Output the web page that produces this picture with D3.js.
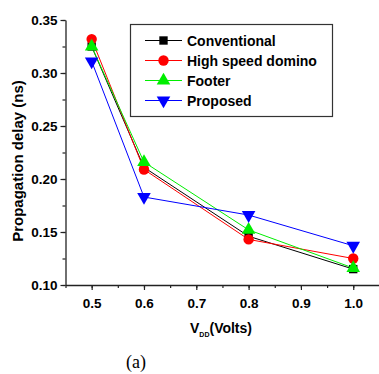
<!DOCTYPE html>
<html>
<head>
<meta charset="utf-8">
<script src="https://cdn.jsdelivr.net/npm/d3@7"></script>
<style>
  body { margin: 0; background: #fff; }
  svg { display: block; }
  text { font-family: Arial, "Liberation Sans", sans-serif; }
  text.caption { font-family: "Liberation Serif", "Times New Roman", "DejaVu Serif", serif; }
</style>
</head>
<body>
<div id="wrapper"></div>
<script>
// supply voltage (V) on the x axis
const vdd = [0.5, 0.6, 0.8, 1.0];

// propagation delay (ns) of each circuit
const conventional = [0.325, 0.211, 0.146, 0.115];
const highSpeedDomino = [0.332, 0.209, 0.143, 0.125];
const footer = [0.325, 0.216, 0.152, 0.116];
const proposed = [0.311, 0.183, 0.166, 0.137];

const seriesNames = ["Conventional", "High speed domino", "Footer", "Proposed"];
const xTicks = [0.5, 0.6, 0.7, 0.8, 0.9, 1.0];
const yTicks = [0.10, 0.15, 0.20, 0.25, 0.30, 0.35];

function buildPlot() {
    const width = 379, height = 374;

    const svg = d3.select("#wrapper").append("svg")
        .attr("width", width)
        .attr("height", height);

    const x = d3.scaleLinear().domain([0.45, 1.05]).range([65.5, 379.4]);
    const y = d3.scaleLinear().domain([0.10, 0.35]).range([285, 20]);

    const series = [
        { name: seriesNames[0], values: conventional, color: "#000000", symbol: d3.symbolSquare, size: 70, rot: 0 },
        { name: seriesNames[1], values: highSpeedDomino, color: "#ff0000", symbol: d3.symbolCircle, size: 85, rot: 0 },
        { name: seriesNames[2], values: footer, color: "#00ee00", symbol: d3.symbolTriangle, size: 80, rot: 0 },
        { name: seriesNames[3], values: proposed, color: "#0000ff", symbol: d3.symbolTriangle, size: 80, rot: 180 }
    ];

    // minor ticks first, then the major ones with labels
    svg.append("g")
        .attr("transform", `translate(0,${y(0.10)})`)
        .call(d3.axisBottom(x).tickValues(d3.range(0.45, 1.06, 0.05)).tickSize(3).tickFormat(""))
        .call(g => g.select(".domain").remove());

    svg.append("g")
        .attr("transform", `translate(${x(0.45)},0)`)
        .call(d3.axisLeft(y).tickValues(d3.range(0.10, 0.351, 0.025)).tickSize(3).tickFormat(""))
        .call(g => g.select(".domain").remove());

    const xAxis = svg.append("g")
        .attr("transform", `translate(0,${y(0.10)})`)
        .call(d3.axisBottom(x).tickValues(xTicks).tickSize(5).tickSizeOuter(0).tickPadding(8).tickFormat(d3.format(".1f")));

    const yAxis = svg.append("g")
        .attr("transform", `translate(${x(0.45)},0)`)
        .call(d3.axisLeft(y).tickValues(yTicks).tickSize(5).tickSizeOuter(0).tickPadding(3).tickFormat(d3.format(".2f")));

    [xAxis, yAxis].forEach(g => {
        g.select(".domain").attr("stroke", "#222").attr("stroke-width", 1.3);
        g.selectAll(".tick text")
            .attr("fill", "#000")
            .style("font-size", "13.5px")
            .style("font-weight", "bold");
    });
    svg.selectAll(".tick line").attr("stroke", "#222").attr("stroke-width", 1.2);

    // axis titles
    svg.append("text")
        .attr("transform", `translate(23,161) rotate(-90)`)
        .attr("text-anchor", "middle")
        .style("font-size", "15px")
        .style("font-weight", "bold")
        .text("Propagation delay (ns)");

    const xTitle = svg.append("text")
        .attr("x", 190)
        .attr("y", 333)
        .style("font-size", "14px")
        .style("font-weight", "bold");
    xTitle.append("tspan").text("V");
    xTitle.append("tspan").attr("dy", 4).style("font-size", "7px").text("DD");
    xTitle.append("tspan").attr("dy", -4).text("(Volts)");

    svg.append("text")
        .attr("class", "caption")
        .attr("x", 136)
        .attr("y", 368)
        .attr("text-anchor", "middle")
        .style("font-size", "18px")
        .text("(a)");

    // lines and markers
    const line = d3.line().x(d => x(d[0])).y(d => y(d[1]));

    series.forEach(s => {
        const pts = vdd.map((v, i) => [v, s.values[i]]);
        svg.append("path")
            .datum(pts)
            .attr("fill", "none")
            .attr("stroke", s.color)
            .attr("stroke-width", 1)
            .attr("d", line);
    });

    series.forEach(s => {
        const pts = vdd.map((v, i) => [v, s.values[i]]);
        svg.selectAll(null)
            .data(pts)
            .enter()
            .append("path")
            .attr("fill", s.color)
            .attr("d", d3.symbol().type(s.symbol).size(s.size))
            .attr("transform", d => `translate(${x(d[0])},${y(d[1])}) rotate(${s.rot})`);
    });

    // legend
    const legend = svg.append("g");
    legend.append("rect")
        .attr("x", 130.5)
        .attr("y", 24.5)
        .attr("width", 202)
        .attr("height", 92)
        .attr("fill", "#fff")
        .attr("stroke", "#333")
        .attr("stroke-width", 1.2);

    series.forEach((s, i) => {
        const ly = 40.5 + i * 20;
        legend.append("line")
            .attr("x1", 145).attr("x2", 182)
            .attr("y1", ly).attr("y2", ly)
            .attr("stroke", s.color)
            .attr("stroke-width", 1);
        legend.append("path")
            .attr("fill", s.color)
            .attr("d", d3.symbol().type(s.symbol).size(s.size))
            .attr("transform", `translate(163.5,${ly}) rotate(${s.rot})`);
        legend.append("text")
            .attr("x", 187)
            .attr("y", ly + 5)
            .style("font-size", "14px")
            .style("font-weight", "bold")
            .text(s.name);
    });
}

buildPlot();
</script>
</body>
</html>
